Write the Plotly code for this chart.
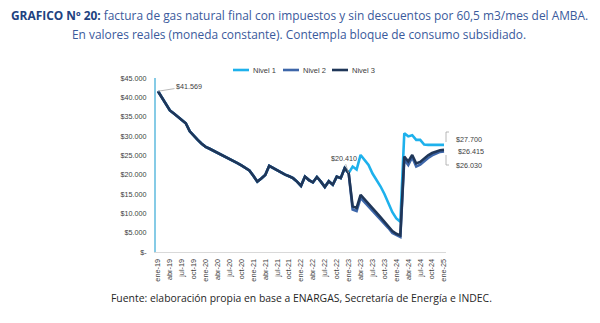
import plotly.graph_objects as go

# ---------------- data ----------------
mes_abrev = ["ene", "feb", "mar", "abr", "may", "jun", "jul", "ago", "sep", "oct", "nov", "dic"]
anios = ["19", "20", "21", "22", "23", "24", "25"]
meses = [f"{m}-{a}" for a in anios for m in mes_abrev][:73]   # ene-19 ... ene-25
tick_meses = meses[::3]

# common part (ene-19 .. ene-23), identical for the three levels
comun = [41569, 39800, 38000, 36600, 35800, 35000, 34300, 33300, 31200, 30000,
         29000, 28000, 27200, 26700, 26200, 25500, 25000, 24600, 24100, 23600,
         23000, 22400, 21800, 21100, 19700, 18200, 19000, 19900, 22300, 21700,
         21200, 20500, 20000, 19600, 19100, 18200, 17100, 19500, 18600, 18000,
         19400, 18200, 16800, 18300, 17400, 19500, 19100, 21700, 20410]
# feb-23 .. ene-25
tramo_nivel1 = [22100, 21300, 25100, 23800, 22500, 20300, 18800, 17000, 15000, 12800,
                10300, 8700, 7800, 30700, 29900, 30200, 29000, 29000, 27800, 27700,
                27700, 27700, 27700, 27700]
tramo_nivel2 = [11000, 10600, 14000, 12900, 11900, 10700, 9500, 8400, 7300, 6200,
                4900, 4300, 3900, 23900, 22500, 24500, 22100, 22600, 23500, 24300,
                25000, 25500, 25900, 26030]
tramo_nivel3 = [11800, 11400, 14800, 13700, 12600, 11400, 10200, 9000, 7800, 6700,
                5400, 4700, 4300, 24700, 23400, 25100, 22900, 23300, 24200, 25000,
                25600, 26000, 26300, 26415]

nivel1 = comun + tramo_nivel1
nivel2 = comun + tramo_nivel2
nivel3 = comun + tramo_nivel3

series = [("Nivel 1", nivel1, "#1eb1ec"), ("Nivel 2", nivel2, "#3d66a9"), ("Nivel 3", nivel3, "#1f3658")]

y_ticks = [0, 5000, 10000, 15000, 20000, 25000, 30000, 35000, 40000, 45000]
y_ticktext = ["$-", "$5.000", "$10.000", "$15.000", "$20.000", "$25.000",
              "$30.000", "$35.000", "$40.000", "$45.000"]

# ---------------- layout helpers ----------------
W, H = 600, 323
L, R, T, B = 156, 154, 78, 71
PW, PH = W - L - R, H - T - B

def px(x):
    return (x - L) / PW

def py(y):
    return (H - B - y) / PH

fig = go.Figure()
for name, vals, col in series:
    fig.add_trace(go.Scatter(x=meses, y=vals, mode="lines", name=name,
                             line=dict(color=col, width=2.6), showlegend=False))

lab_font = dict(family="Liberation Sans, Arial, sans-serif", size=7.2, color="#404040")
ann = []
# data labels
ann.append(dict(x=meses[0], y=nivel1[0], xref="x", yref="y", text="$41.569", showarrow=True,
                ax=31, ay=-5, arrowhead=0, arrowwidth=0.8, arrowcolor="#a6a6a6", font=lab_font))
ann.append(dict(x=meses[48], y=nivel3[48], xref="x", yref="y", text="$20.410", showarrow=True,
                ax=-5, ay=-15, arrowhead=0, arrowwidth=0.8, arrowcolor="#a6a6a6", font=lab_font))
ann.append(dict(x=px(454), y=py(133), xref="paper", yref="paper",
                text="$27.700", showarrow=False, xanchor="left", font=lab_font))
ann.append(dict(x=px(456), y=py(151), xref="paper", yref="paper",
                text="$26.415", showarrow=False, xanchor="left", font=lab_font))
ann.append(dict(x=px(454), y=py(165), xref="paper", yref="paper",
                text="$26.030", showarrow=False, xanchor="left", font=lab_font))

shapes = []
br = dict(color="#a6a6a6", width=0.8)
shapes.append(dict(type="path", xref="paper", yref="paper", line=br,
                   path=f"M {px(449)},{py(132)} L {px(446)},{py(132)} L {px(446)},{py(142)}"))
shapes.append(dict(type="path", xref="paper", yref="paper", line=br,
                   path=f"M {px(446)},{py(155)} L {px(446)},{py(165)} L {px(449)},{py(165)}"))

# custom legend
leg_font = dict(family="Liberation Sans, Arial, sans-serif", size=7.5, color="#404040")
leg_x = [233, 283, 332]
for (name, vals, col), x0 in zip(series, leg_x):
    shapes.append(dict(type="line", xref="paper", yref="paper",
                       x0=px(x0), x1=px(x0 + 16), y0=py(70), y1=py(70),
                       line=dict(color=col, width=2.6)))
    ann.append(dict(x=px(x0 + 18), y=py(70), xref="paper", yref="paper", text=name,
                    showarrow=False, xanchor="left", yanchor="middle", font=leg_font))

# title & source
title_font = dict(family="Open Sans, sans-serif", size=11.9, color="#3a5a9c")
ann.append(dict(x=px(299), y=py(15), xref="paper", yref="paper", showarrow=False,
                text="<b style='color:#21427f'>GRAFICO Nº 20:</b> factura de gas natural final con impuestos y sin descuentos por 60,5 m3/mes del AMBA.",
                font=title_font, xanchor="center", yanchor="middle"))
ann.append(dict(x=px(299), y=py(34), xref="paper", yref="paper", showarrow=False,
                text="En valores reales (moneda constante). Contempla bloque de consumo subsidiado.",
                font=title_font, xanchor="center", yanchor="middle"))
ann.append(dict(x=px(301), y=py(298), xref="paper", yref="paper", showarrow=False,
                text="Fuente: elaboración propia en base a ENARGAS, Secretaría de Energía e INDEC.",
                font=dict(family="Open Sans, sans-serif", size=10.4, color="#262626"),
                xanchor="center", yanchor="middle"))

fig.update_layout(
    width=W, height=H,
    margin=dict(l=L, r=R, t=T, b=B, pad=0),
    paper_bgcolor="white", plot_bgcolor="white",
    showlegend=False,
    annotations=ann, shapes=shapes,
    xaxis=dict(type="category", range=[-0.5, 72.5], tickmode="array",
               tickvals=tick_meses, ticktext=tick_meses, tickangle=-90,
               tickfont=dict(family="Liberation Sans, Arial, sans-serif", size=7.3, color="#404040"),
               showgrid=False, zeroline=False, showline=True, linecolor="#d9d9d9", linewidth=1,
               ticks="", ticklabelstandoff=3),
    yaxis=dict(range=[0, 45000], tickmode="array", tickvals=y_ticks, ticktext=y_ticktext,
               tickfont=dict(family="Liberation Sans, Arial, sans-serif", size=7.2, color="#404040"),
               showgrid=False, zeroline=False, showline=True, linecolor="#86cbe6", linewidth=2,
               ticks="", ticklabelstandoff=6),
)

fig.write_html("out.html")
